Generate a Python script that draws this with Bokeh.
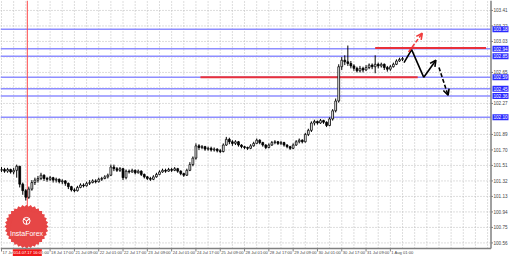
from bokeh.plotting import figure
from bokeh.models import ColumnDataSource, Range1d, Label, Arrow, OpenHead
from bokeh.core.properties import value
from bokeh.embed import file_html
from bokeh.resources import INLINE

# ---------------- data (USD/JPY, 2-hour steps of the H1 chart) ----------------
open0 = 101.45
closes = [101.46, 101.44, 101.46, 101.43, 101.45, 101.50, 101.28, 101.20, 101.12, 101.22,
          101.30, 101.33, 101.35, 101.39, 101.35, 101.34, 101.36, 101.33, 101.34, 101.31,
          101.32, 101.29, 101.25, 101.21, 101.20, 101.24, 101.27, 101.26, 101.29, 101.30,
          101.32, 101.31, 101.34, 101.35, 101.37, 101.39, 101.49, 101.47, 101.45, 101.47,
          101.36, 101.44, 101.43, 101.45, 101.42, 101.44, 101.40, 101.37, 101.35, 101.34,
          101.37, 101.40, 101.43, 101.45, 101.44, 101.46, 101.45, 101.47, 101.44, 101.41,
          101.39, 101.45, 101.52, 101.60, 101.75, 101.73, 101.74, 101.71, 101.72, 101.70,
          101.71, 101.69, 101.68, 101.76, 101.83, 101.80, 101.78, 101.80, 101.76, 101.74,
          101.73, 101.72, 101.75, 101.78, 101.82, 101.79, 101.76, 101.73, 101.76, 101.79,
          101.80, 101.78, 101.79, 101.76, 101.74, 101.72, 101.76, 101.80, 101.82, 101.80,
          101.89, 101.94, 102.03, 102.05, 102.03, 102.06, 102.04, 102.00, 102.08, 102.18,
          102.30, 102.72, 102.80, 102.78, 102.76, 102.73, 102.70, 102.67, 102.70, 102.68,
          102.71, 102.74, 102.72, 102.75, 102.73, 102.75, 102.71, 102.69, 102.72, 102.75,
          102.79, 102.81, 102.82]
highs = [101.49, 101.48, 101.48, 101.47, 101.48, 101.52, 101.50, 101.30, 101.22, 101.25,
         101.33, 101.36, 101.38, 101.42, 101.40, 101.37, 101.38, 101.37, 101.36, 101.35,
         101.34, 101.33, 101.30, 101.26, 101.23, 101.26, 101.29, 101.29, 101.31, 101.33,
         101.34, 101.34, 101.36, 101.37, 101.39, 101.41, 101.52, 101.52, 101.49, 101.49,
         101.48, 101.46, 101.46, 101.47, 101.46, 101.46, 101.45, 101.41, 101.38, 101.37,
         101.39, 101.42, 101.45, 101.47, 101.47, 101.48, 101.48, 101.49, 101.48, 101.45,
         101.42, 101.47, 101.55, 101.62, 101.78, 101.77, 101.76, 101.75, 101.74, 101.74,
         101.73, 101.72, 101.71, 101.78, 101.86, 101.85, 101.82, 101.82, 101.81, 101.77,
         101.75, 101.74, 101.77, 101.80, 101.84, 101.83, 101.80, 101.77, 101.78, 101.81,
         101.82, 101.81, 101.81, 101.80, 101.77, 101.75, 101.78, 101.82, 101.84, 101.83,
         101.91, 101.96, 102.05, 102.07, 102.06, 102.08, 102.07, 102.05, 102.10, 102.20,
         102.33, 102.75, 102.84, 102.86, 102.98, 102.79, 102.75, 102.72, 102.73, 102.72,
         102.74, 102.76, 102.76, 102.86, 102.77, 102.77, 102.76, 102.73, 102.74, 102.77,
         102.81, 102.83, 102.84]
lows = [101.43, 101.42, 101.42, 101.41, 101.40, 101.36, 101.24, 101.15, 101.08, 101.10,
        101.20, 101.27, 101.30, 101.33, 101.32, 101.31, 101.32, 101.30, 101.30, 101.29,
        101.28, 101.26, 101.22, 101.19, 101.18, 101.19, 101.23, 101.24, 101.25, 101.27,
        101.29, 101.29, 101.30, 101.32, 101.34, 101.35, 101.38, 101.44, 101.43, 101.43,
        101.33, 101.34, 101.41, 101.42, 101.40, 101.41, 101.38, 101.35, 101.33, 101.32,
        101.33, 101.36, 101.39, 101.42, 101.42, 101.43, 101.43, 101.44, 101.42, 101.39,
        101.37, 101.38, 101.44, 101.50, 101.58, 101.70, 101.71, 101.69, 101.69, 101.68,
        101.68, 101.67, 101.66, 101.67, 101.75, 101.77, 101.75, 101.76, 101.74, 101.72,
        101.71, 101.70, 101.71, 101.74, 101.77, 101.77, 101.74, 101.71, 101.72, 101.75,
        101.77, 101.76, 101.76, 101.74, 101.72, 101.70, 101.71, 101.75, 101.78, 101.78,
        101.79, 101.87, 101.92, 102.00, 102.01, 102.02, 102.02, 101.98, 101.99, 102.06,
        102.16, 102.28, 102.68, 102.74, 102.73, 102.70, 102.67, 102.65, 102.65, 102.65,
        102.67, 102.69, 102.69, 102.64, 102.70, 102.71, 102.68, 102.66, 102.67, 102.71,
        102.74, 102.78, 102.79]
bar_step = 2  # index units (hours) per candle

# time axis labels (bar index -> label)
x_tick_idx = [0, 16, 32, 48, 64, 80, 96, 112, 128, 144, 160, 176, 192, 208, 224, 240, 256]
x_tick_labels = ["17 Jul 2014", "18 Jul 01:00", "18 Jul 17:00", "21 Jul 09:00", "22 Jul 01:00",
                 "22 Jul 17:00", "23 Jul 09:00", "24 Jul 01:00", "24 Jul 17:00", "25 Jul 09:00",
                 "28 Jul 01:00", "28 Jul 17:00", "29 Jul 09:00", "30 Jul 01:00", "30 Jul 17:00",
                 "31 Jul 09:00", "1 Aug 01:00"]
x_grid_idx = list(range(0, 321, 8))
price_ticks = [100.56, 100.75, 100.94, 101.13, 101.32, 101.51, 101.70, 101.89, 102.08,
               102.27, 102.46, 102.65, 102.84, 103.03, 103.22, 103.41]
hidden_price_ticks = [102.08, 102.46, 102.84]

level_prices = [103.18, 102.94, 102.85, 102.59, 102.45, 102.36, 102.10]
red_levels = [102.95, 102.59]
red_start = [246, 131]
red_end = [319, 274]

marker_idx = 17
marker_text = "2014.07.17 16:00"

# forecast arrows
fc_solid_x = [265, 270, 278, 286]
fc_solid_y = [102.77, 102.93, 102.59, 102.80]
fc_up_x = [268, 277]
fc_up_y = [102.90, 103.13]
fc_down_x = [288, 294]
fc_down_y = [102.71, 102.37]

# ---------------- scales (one frame = whole canvas, MT4-style axes drawn inside) ----------------
FONT = value("Liberation Sans")
W, H = 510, 256
PX_PER_IDX = 1.519          # pixels per hourly bar
PRICE_PER_PX = 0.01226      # price units per pixel
X0 = -1.0 / PX_PER_IDX
X1 = X0 + W / PX_PER_IDX
Y1 = 103.532
Y0 = Y1 - H * PRICE_PER_PX
AXIS_X = X0 + 490.5 / PX_PER_IDX    # right price-axis line
AXIS_Y = Y1 - 248 * PRICE_PER_PX    # bottom time-axis line
dx = 1.0 / PX_PER_IDX               # one pixel in x data units
dy = PRICE_PER_PX                   # one pixel in y data units

p = figure(width=W, height=H, output_backend="svg", toolbar_location=None,
           x_range=Range1d(X0, X1), y_range=Range1d(Y0, Y1),
           x_axis_location=None, y_axis_location=None,
           min_border=0, min_border_left=0, min_border_right=0,
           min_border_top=0, min_border_bottom=0)
p.outline_line_color = None
p.background_fill_color = "white"
p.border_fill_color = "white"
p.grid.visible = False

# dotted grid inside the chart area
p.segment(x0=X0, y0=price_ticks, x1=AXIS_X, y1=price_ticks,
          line_color="#bcbcbc", line_dash="1 2", line_width=1)
p.segment(x0=x_grid_idx, y0=AXIS_Y, x1=x_grid_idx, y1=Y1,
          line_color="#bcbcbc", line_dash="1 2", line_width=1)

# level lines
p.segment(x0=X0, y0=level_prices, x1=AXIS_X, y1=level_prices,
          line_color="#8e8eff", line_width=1.5)
p.segment(x0=red_start, y0=red_levels, x1=red_end, y1=red_levels,
          line_color="#e8303a", line_width=2)
p.segment(x0=[marker_idx], y0=AXIS_Y, x1=[marker_idx], y1=Y1,
          line_color="#ff4a4a", line_width=1)

# candles
n = len(closes)
opens = [open0] + closes[:-1]
xs = [bar_step * k for k in range(n)]
src = ColumnDataSource(dict(
    x=xs, high=highs, low=lows,
    top=[max(o, c) for o, c in zip(opens, closes)],
    bottom=[min(o, c) for o, c in zip(opens, closes)],
    fill=["white" if c >= o else "black" for o, c in zip(opens, closes)],
))
p.segment(x0="x", y0="low", x1="x", y1="high", source=src, line_color="black", line_width=1)
p.vbar(x="x", width=1.2, top="top", bottom="bottom", source=src,
       fill_color="fill", line_color="black", line_width=0.8)

# forecast arrows
p.line(fc_solid_x[:-1], fc_solid_y[:-1], line_color="black", line_width=1.6)
p.add_layout(Arrow(end=OpenHead(size=6, line_color="black", line_width=1.6),
                   x_start=fc_solid_x[-2], y_start=fc_solid_y[-2],
                   x_end=fc_solid_x[-1], y_end=fc_solid_y[-1],
                   line_color="black", line_width=1.6))
p.add_layout(Arrow(end=OpenHead(size=6, line_color="#f03c3c", line_width=1.6),
                   x_start=fc_up_x[0], y_start=fc_up_y[0],
                   x_end=fc_up_x[1], y_end=fc_up_y[1],
                   line_color="#f03c3c", line_width=1.6, line_dash="4 2"))
p.add_layout(Arrow(end=OpenHead(size=6, line_color="black", line_width=1.6),
                   x_start=fc_down_x[0], y_start=fc_down_y[0],
                   x_end=fc_down_x[1], y_end=fc_down_y[1],
                   line_color="black", line_width=1.6, line_dash="4 2"))

# InstaForex badge
logo_x, logo_y = 16.5, 100.76
p.scatter(x=[logo_x] * 8, y=[logo_y] * 8, marker="square", size=31,
          angle=[k * 3.14159265 / 16 for k in range(8)],
          fill_color="#e64646", line_color=None)
p.scatter(x=[logo_x], y=[100.83], marker="circle_y", size=7,
          fill_color=None, line_color="white", line_width=1)
p.add_layout(Label(x=logo_x, y=100.675, text="InstaForex", text_font="Liberation Sans",
                   text_font_size="7px", text_color="white",
                   text_align="center", text_baseline="middle"))

# ---- price axis (right) ----
p.segment(x0=[AXIS_X], y0=AXIS_Y, x1=[AXIS_X], y1=Y1, line_color="#808080", line_width=1.5)
shown_ticks = [t for t in price_ticks if t not in hidden_price_ticks]
p.segment(x0=AXIS_X, y0=shown_ticks, x1=AXIS_X + 2 * dx, y1=shown_ticks,
          line_color="#808080", line_width=1)
p.text(x=AXIS_X + 2.5 * dx, y=shown_ticks, text=[f"{t:.2f}" for t in shown_ticks],
       text_font=FONT, text_font_size="4.6px", text_color="#444444",
       text_align="left", text_baseline="middle")
box_x = AXIS_X + 9.5 * dx
p.rect(x=box_x, y=level_prices, width=16, height=6, width_units="screen",
       height_units="screen", fill_color="#2a2aff", line_color=None)
p.text(x=box_x, y=level_prices, text=[f"{v:.2f}" for v in level_prices],
       text_font=FONT, text_font_size="4.6px", text_color="white",
       text_align="center", text_baseline="middle")

# ---- time axis (bottom) ----
p.segment(x0=[X0], y0=AXIS_Y, x1=[AXIS_X], y1=AXIS_Y, line_color="#808080", line_width=1.5)
p.segment(x0=x_tick_idx, y0=AXIS_Y, x1=x_tick_idx, y1=AXIS_Y - 3 * dy,
          line_color="#808080", line_width=1)
p.text(x=[i + 1 * dx for i in x_tick_idx], y=AXIS_Y - 4.2 * dy, text=x_tick_labels,
       text_font=FONT, text_font_size="4.1px", text_color="#444444",
       text_align="left", text_baseline="middle")
p.rect(x=[marker_idx], y=AXIS_Y - 4.2 * dy, width=29, height=7, width_units="screen",
       height_units="screen", fill_color="#f01818", line_color=None)
p.text(x=[marker_idx], y=AXIS_Y - 4.2 * dy, text=[marker_text],
       text_font=FONT, text_font_size="4.1px", text_color="white",
       text_align="center", text_baseline="middle")

open("out.html", "w").write(file_html(p, INLINE))
